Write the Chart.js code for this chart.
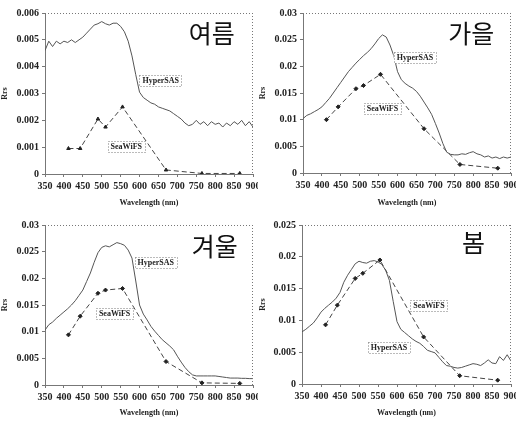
<!DOCTYPE html>
<html>
<head>
<meta charset="utf-8">
<script src="https://cdn.jsdelivr.net/npm/chart.js@4.4.0/dist/chart.umd.min.js"></script>
<style>
  body { margin: 0; background: #fff; }
  #wrap { position: relative; width: 516px; height: 421px; }
  .p { position: absolute; width: 258px; height: 210px; }
</style>
</head>
<body>
<div id="wrap">
  <div class="p" style="left:0;top:0"><canvas id="summer" width="258" height="210"></canvas></div>
  <div class="p" style="left:258px;top:0"><canvas id="autumn" width="258" height="210"></canvas></div>
  <div class="p" style="left:0;top:210px"><canvas id="winter" width="258" height="210"></canvas></div>
  <div class="p" style="left:258px;top:210px"><canvas id="spring" width="258" height="210"></canvas></div>
</div>
<script>
// wavelengths (nm) of the HyperSAS spectra and the SeaWiFS bands
const hyperWl = [350, 360, 370, 380, 390, 400, 410, 420, 430, 440,
                 450, 460, 470, 480, 490, 500, 510, 520, 530, 540,
                 550, 560, 570, 580, 590, 600, 610, 620, 630, 640,
                 650, 660, 670, 680, 690, 700, 710, 720, 730, 740,
                 750, 760, 770, 780, 790, 800, 810, 820, 830, 840,
                 850, 860, 870, 880, 890, 900];
const seaWl = [412, 443, 490, 510, 555, 670, 765, 865];

// 여름 (summer)
const summerHyper = [0.0046, 0.00495, 0.00475, 0.00495, 0.00485, 0.00495, 0.0049, 0.005, 0.0049, 0.005,
                     0.0051, 0.00525, 0.0054, 0.00555, 0.0056, 0.00568, 0.0056, 0.00555, 0.00562, 0.00562,
                     0.0055, 0.0053, 0.00495, 0.0044, 0.0037, 0.00305, 0.00285, 0.00275, 0.00265, 0.0026,
                     0.0025, 0.00245, 0.0024, 0.00235, 0.00225, 0.00215, 0.00205, 0.0019, 0.0018, 0.00185,
                     0.002, 0.00185, 0.00195, 0.0018, 0.00195, 0.00185, 0.0019, 0.00175, 0.0019, 0.0018,
                     0.00195, 0.00185, 0.002, 0.0018, 0.00195, 0.00175];
const summerSea = [0.00095, 0.00095, 0.00205, 0.00175, 0.0025, 0.00015, 0.00002, 0.00002];

// 가을 (autumn)
const autumnHyper = [0.0102, 0.0108, 0.0111, 0.0115, 0.0119, 0.0124, 0.0132, 0.014, 0.015, 0.016,
                     0.017, 0.018, 0.019, 0.0198, 0.0206, 0.0213, 0.022, 0.0226, 0.0233, 0.0242,
                     0.0252, 0.0259, 0.0255, 0.024, 0.022, 0.019, 0.0175, 0.0168, 0.0163, 0.0159,
                     0.0153, 0.0144, 0.0133, 0.0122, 0.011, 0.0093, 0.0075, 0.0055, 0.0039, 0.0035,
                     0.0034, 0.0034, 0.0036, 0.0035, 0.0038, 0.004, 0.0036, 0.0034, 0.003, 0.0032,
                     0.0028, 0.003, 0.0027, 0.003, 0.0028, 0.003];
const autumnSea = [0.01, 0.0124, 0.0158, 0.0164, 0.0185, 0.0083, 0.0016, 0.0009];

// 겨울 (winter)
const winterHyper = [0.0103, 0.0113, 0.0118, 0.0125, 0.0131, 0.0137, 0.0143, 0.015, 0.0158, 0.0168,
                     0.0178, 0.0194, 0.021, 0.023, 0.0248, 0.0258, 0.0261, 0.0259, 0.0263, 0.0267,
                     0.0265, 0.0262, 0.0253, 0.0238, 0.0195, 0.015, 0.0133, 0.0122, 0.011, 0.0101,
                     0.0093, 0.0085, 0.0079, 0.0073, 0.0066, 0.0054, 0.0043, 0.0033, 0.0025, 0.0019,
                     0.0017, 0.0017, 0.0017, 0.0017, 0.0017, 0.0017, 0.0016, 0.0015, 0.0014, 0.0013,
                     0.0013, 0.0013, 0.00125, 0.00125, 0.0012, 0.0012];
const winterSea = [0.0094, 0.0129, 0.0172, 0.0178, 0.0181, 0.0044, 0.0004, 0.0003];

// 봄 (spring)
const springHyper = [0.0082, 0.0086, 0.0091, 0.0096, 0.0104, 0.0113, 0.0119, 0.0124, 0.0129, 0.0135,
                     0.0144, 0.016, 0.0171, 0.018, 0.0189, 0.0193, 0.0191, 0.019, 0.0193, 0.0194,
                     0.0192, 0.0188, 0.0179, 0.0163, 0.013, 0.0098, 0.0086, 0.0081, 0.0076, 0.0071,
                     0.0067, 0.0064, 0.0059, 0.0053, 0.0051, 0.0049, 0.0042, 0.0035, 0.0029, 0.0028,
                     0.0026, 0.0025, 0.0026, 0.0028, 0.003, 0.0032, 0.0031, 0.0029, 0.0033, 0.0038,
                     0.0033, 0.0032, 0.0043, 0.0037, 0.0046, 0.0036];
const springSea = [0.0093, 0.0124, 0.0166, 0.0174, 0.0195, 0.0074, 0.0013, 0.0006];

const serif = '"Liberation Serif", "DejaVu Serif", serif';

// dotted frame, labelled boxes and the season name
const notesPlugin = {
    id: 'notes',
    afterDatasetsDraw(chart, args, opts) {
        const { ctx, chartArea: a } = chart;
        const x = chart.scales.x, y = chart.scales.y;
        ctx.save();
        ctx.strokeStyle = '#777';
        ctx.lineWidth = 1;
        ctx.setLineDash([1, 2]);
        ctx.beginPath();
        ctx.moveTo(a.left, a.top + 0.5);
        ctx.lineTo(a.right, a.top + 0.5);
        ctx.moveTo(a.right - 0.5, a.top);
        ctx.lineTo(a.right - 0.5, a.bottom);
        ctx.stroke();

        ctx.font = 'bold 8px ' + serif;
        ctx.textAlign = 'center';
        ctx.textBaseline = 'middle';
        opts.boxes.forEach(b => {
            const cx = x.getPixelForValue(b.x), cy = y.getPixelForValue(b.y);
            const w = ctx.measureText(b.text).width + 6, h = 11;
            ctx.fillStyle = '#fff';
            ctx.fillRect(cx - w / 2, cy - h / 2, w, h);
            ctx.strokeRect(Math.round(cx - w / 2) + 0.5, Math.round(cy - h / 2) + 0.5, Math.round(w), h);
            ctx.fillStyle = '#222';
            ctx.fillText(b.text, cx, cy + 0.5);
        });

        ctx.setLineDash([]);
        ctx.font = '25px "Noto Sans CJK KR"';
        ctx.fillStyle = '#111';
        ctx.fillText(opts.season, x.getPixelForValue(opts.at[0]), y.getPixelForValue(opts.at[1]));
        ctx.restore();
    }
};

function yLabel(v) {
    return v === 0 ? '0' : String(+v.toFixed(4));
}

function makeChart(id, hyper, sea, cfg) {
    new Chart(document.getElementById(id), {
        type: 'line',
        data: {
            datasets: [{
                label: 'HyperSAS',
                data: hyperWl.map((w, i) => ({ x: w, y: hyper[i] })),
                borderColor: '#555',
                borderWidth: 1,
                pointRadius: 0,
                tension: 0
            }, {
                label: 'SeaWiFS',
                data: seaWl.map((w, i) => ({ x: w, y: sea[i] })),
                borderColor: '#444',
                borderWidth: 1,
                borderDash: [5, 3],
                pointStyle: cfg.marker,
                pointRadius: 2,
                pointBackgroundColor: '#222',
                pointBorderColor: '#222',
                tension: 0
            }]
        },
        options: {
            responsive: false,
            animation: false,
            layout: { padding: { left: 0, top: cfg.top, right: cfg.right, bottom: 0 } },
            plugins: {
                legend: { display: false },
                tooltip: { enabled: false },
                notes: { season: cfg.season, at: cfg.at, boxes: cfg.boxes }
            },
            scales: {
                x: {
                    type: 'linear',
                    min: 350, max: 900,
                    grid: { drawOnChartArea: false, drawTicks: true, tickLength: 3, color: '#777' },
                    border: { display: true, dash: [1, 2], color: '#777' },
                    ticks: { stepSize: 50, autoSkip: false, maxRotation: 0, padding: 3,
                             color: '#222', font: { family: serif, size: 10, weight: 'bold' } },
                    title: { display: true, text: 'Wavelength (nm)', color: '#222', padding: 2,
                             font: { family: serif, size: 8, weight: 'bold' } },
                    afterFit: s => { s.height = cfg.xh; s.paddingLeft = 0; s.paddingRight = 0; }
                },
                y: {
                    min: 0, max: cfg.ymax,
                    grid: { drawOnChartArea: false, drawTicks: true, tickLength: 3, color: '#777' },
                    border: { display: true, dash: [1, 2], color: '#777' },
                    ticks: { stepSize: cfg.step, padding: 3, color: '#222', callback: yLabel,
                             font: { family: serif, size: 10, weight: 'bold' } },
                    title: { display: true, text: 'Rrs', color: '#222', padding: 0,
                             font: { family: serif, size: 8, weight: 'bold' } },
                    afterFit: s => { s.width = cfg.yw; }
                }
            }
        },
        plugins: [notesPlugin]
    });
}

makeChart('summer', summerHyper, summerSea, {
    season: '여름', at: [791, 0.00525], marker: 'triangle',
    ymax: 0.006, step: 0.001, top: 13, right: 1, xh: 36, yw: 45,
    boxes: [{ text: 'HyperSAS', x: 656, y: 0.0035 }, { text: 'SeaWiFS', x: 565, y: 0.00104 }]
});
makeChart('autumn', autumnHyper, autumnSea, {
    season: '가을', at: [795, 0.0262], marker: 'rectRot',
    ymax: 0.03, step: 0.005, top: 13, right: 3, xh: 37, yw: 45,
    boxes: [{ text: 'HyperSAS', x: 646, y: 0.0216 }, { text: 'SeaWiFS', x: 560, y: 0.0121 }]
});
makeChart('winter', winterHyper, winterSea, {
    season: '겨울', at: [799, 0.0259], marker: 'rectRot',
    ymax: 0.03, step: 0.005, top: 15, right: 1, xh: 35, yw: 45,
    boxes: [{ text: 'HyperSAS', x: 643, y: 0.0229 }, { text: 'SeaWiFS', x: 534, y: 0.0135 }]
});
makeChart('spring', springHyper, springSea, {
    season: '봄', at: [801, 0.0223], marker: 'rectRot',
    ymax: 0.025, step: 0.005, top: 15, right: 3, xh: 36, yw: 44,
    boxes: [{ text: 'SeaWiFS', x: 684, y: 0.0123 }, { text: 'HyperSAS', x: 579, y: 0.0057 }]
});
</script>
</body>
</html>
